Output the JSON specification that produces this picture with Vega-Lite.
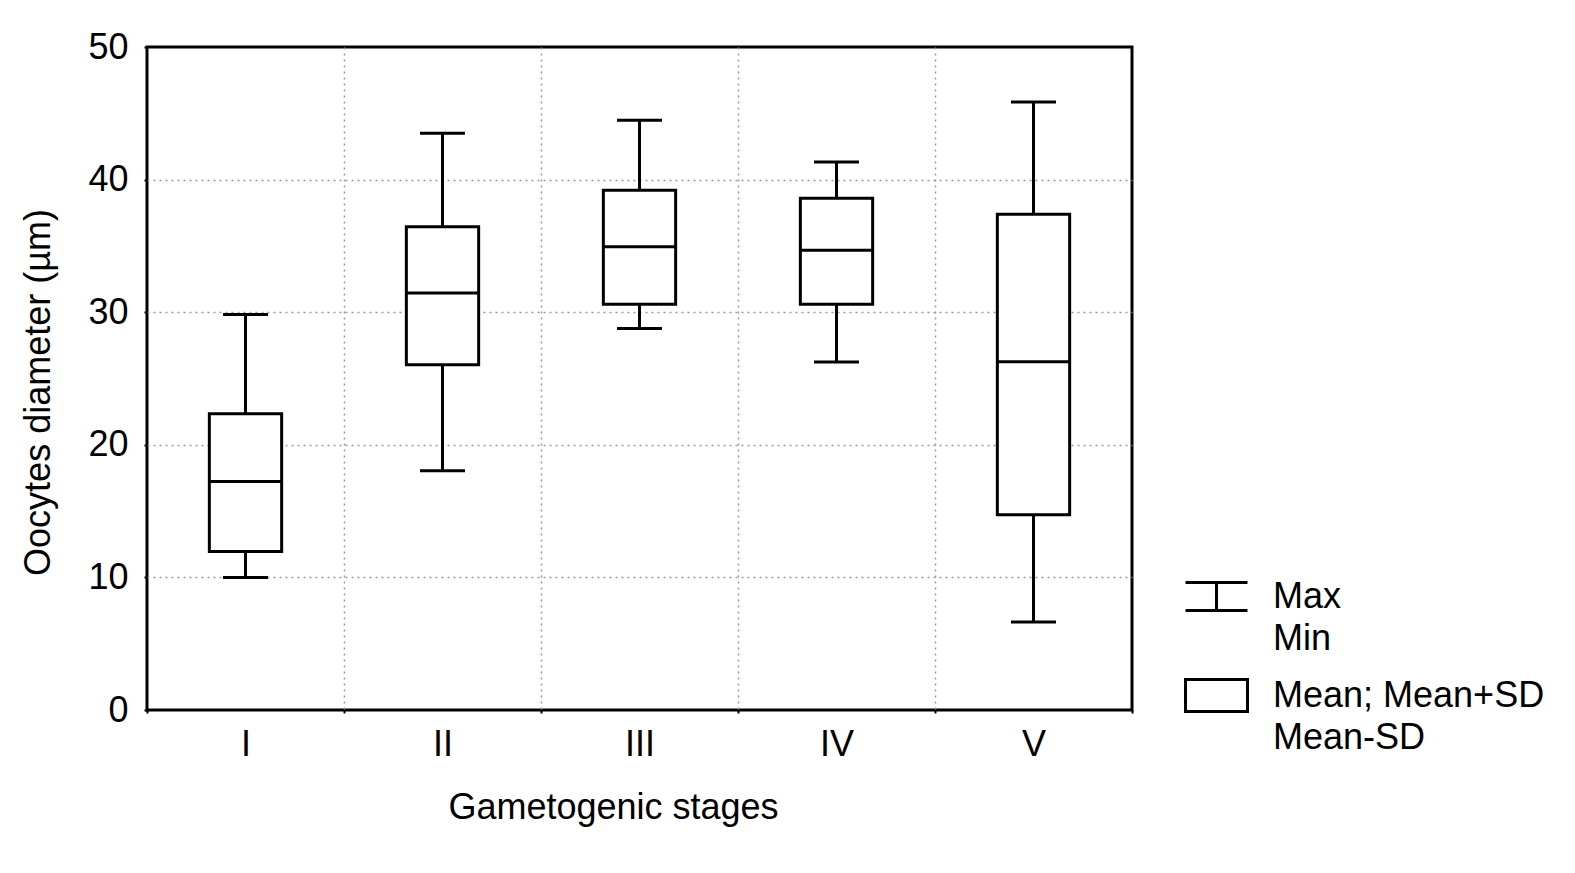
{
  "$schema": "https://vega.github.io/schema/vega-lite/v6.json",
  "background": "white",
  "autosize": {"type": "none"},
  "padding": {"left": 147, "top": 47, "right": 443, "bottom": 163},
  "width": 985,
  "height": 663,
  "datasets": {
    "stages": [
      {"stage": "I", "min": 9.99, "lo": 11.95, "mean": 17.23, "hi": 22.34, "max": 29.83},
      {"stage": "II", "min": 18.04, "lo": 26.04, "mean": 31.45, "hi": 36.45, "max": 43.5},
      {"stage": "III", "min": 28.78, "lo": 30.6, "mean": 34.94, "hi": 39.2, "max": 44.47},
      {"stage": "IV", "min": 26.24, "lo": 30.6, "mean": 34.67, "hi": 38.6, "max": 41.33},
      {"stage": "V", "min": 6.64, "lo": 14.72, "mean": 26.26, "hi": 37.39, "max": 45.85}
    ],
    "key": [
      {"item": "Max|Min"},
      {"item": "Mean; Mean+SD|Mean-SD"}
    ]
  },
  "layer": [
    {
      "data": {"name": "stages"},
      "mark": {"type": "rule", "color": "black", "strokeWidth": 3},
      "encoding": {
        "x": {
          "field": "stage", "type": "nominal", "sort": null,
          "scale": {"paddingInner": 0, "paddingOuter": 0},
          "axis": {
            "title": "Gametogenic stages",
            "titleX": 466,
            "labelAngle": 0,
            "tickBand": "extent",
            "tickSize": 3,
            "labelPadding": 14,
            "titlePadding": 28,
            "gridColor": {"condition": {"test": "datum.value == 'V' || datum.index < 0 || datum.extra", "value": "transparent"}, "value": "#9a9a9a"}
          }
        },
        "y": {
          "field": "min", "type": "quantitative",
          "scale": {"domain": [0, 50], "nice": false, "zero": true},
          "axis": {
            "title": "Oocytes diameter (µm)",
            "values": [0, 10, 20, 30, 40, 50],
            "tickSize": 3,
            "labelPadding": 16,
            "titlePadding": 30,
            "titleY": 345,
            "gridColor": {"condition": {"test": "datum.value == 0 || datum.value == 50", "value": "transparent"}, "value": "#9a9a9a"}
          }
        },
        "y2": {"field": "max"}
      }
    },
    {
      "data": {"name": "stages"},
      "mark": {"type": "tick", "color": "black", "opacity": 1, "size": 45, "thickness": 3},
      "encoding": {
        "x": {"field": "stage", "type": "nominal", "sort": null},
        "y": {"field": "max", "type": "quantitative"}
      }
    },
    {
      "data": {"name": "stages"},
      "mark": {"type": "tick", "color": "black", "opacity": 1, "size": 45, "thickness": 3},
      "encoding": {
        "x": {"field": "stage", "type": "nominal", "sort": null},
        "y": {"field": "min", "type": "quantitative"}
      }
    },
    {
      "data": {"name": "stages"},
      "mark": {"type": "bar", "fill": "white", "stroke": "black", "strokeWidth": 3, "opacity": 1, "width": {"band": 0.367}},
      "encoding": {
        "x": {"field": "stage", "type": "nominal", "sort": null},
        "y": {"field": "lo", "type": "quantitative"},
        "y2": {"field": "hi"}
      }
    },
    {
      "data": {"name": "stages"},
      "mark": {"type": "tick", "color": "black", "opacity": 1, "size": 72, "thickness": 3},
      "encoding": {
        "x": {"field": "stage", "type": "nominal", "sort": null},
        "y": {"field": "mean", "type": "quantitative"}
      }
    },
    {
      "data": {"name": "key"},
      "mark": {"type": "point", "opacity": 0},
      "encoding": {
        "shape": {
          "field": "item", "type": "nominal",
          "scale": {
            "domain": ["Max|Min", "Mean; Mean+SD|Mean-SD"],
            "range": ["M-1,-0.45H1M0,-0.45V0.45M-1,0.45H1", "M-1,-0.52H1V0.52H-1Z"]
          },
          "legend": {
            "title": null,
            "orient": "none",
            "legendX": 1037,
            "legendY": 517,
            "padding": 0,
            "symbolSize": 3844,
            "symbolStrokeWidth": 3,
            "symbolStrokeColor": "black",
            "symbolFillColor": "transparent",
            "symbolOpacity": 1,
            "labelExpr": "split(datum.label, '|')",
            "labelFont": "Liberation Sans",
            "labelFontSize": 36,
            "labelColor": "black",
            "labelLimit": 400,
            "labelOffset": 24,
            "rowPadding": 6
          }
        }
      }
    }
  ],
  "config": {
    "view": {"stroke": "black", "strokeWidth": 3},
    "style": {"guide-label": {"lineHeight": 42}},
    "axis": {
      "domain": false,
      "grid": true,
      "gridDash": [2, 4],
      "gridWidth": 1.5,
      "tickColor": "black",
      "tickWidth": 2,
      "labelFont": "Liberation Sans",
      "labelFontSize": 36,
      "labelColor": "black",
      "titleFont": "Liberation Sans",
      "titleFontSize": 36,
      "titleFontWeight": "normal",
      "titleColor": "black"
    }
  }
}
